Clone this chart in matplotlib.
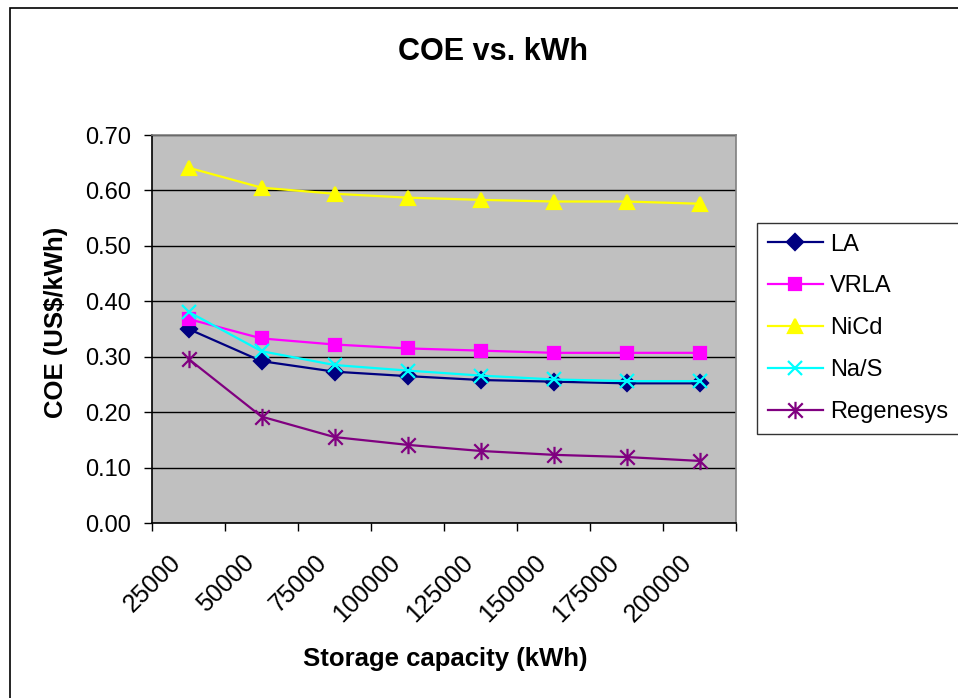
import matplotlib
matplotlib.use("Agg")
import matplotlib.pyplot as plt
import matplotlib.transforms as mtransforms
from matplotlib.patches import Rectangle
from matplotlib.path import Path
from matplotlib.ticker import FixedLocator, FormatStrFormatter

plt.rcParams["font.family"] = ["Liberation Sans", "DejaVu Sans"]

# storage capacity categories (kWh) and cost of energy per technology (US$/kWh)
capacity = ["25000", "50000", "75000", "100000", "125000", "150000", "175000", "200000"]
coe_la = [0.350, 0.292, 0.273, 0.265, 0.258, 0.255, 0.252, 0.252]
coe_vrla = [0.368, 0.333, 0.322, 0.315, 0.311, 0.307, 0.307, 0.307]
coe_nicd = [0.641, 0.605, 0.594, 0.587, 0.583, 0.580, 0.580, 0.576]
coe_nas = [0.381, 0.310, 0.285, 0.275, 0.266, 0.259, 0.256, 0.256]
coe_regen = [0.296, 0.192, 0.155, 0.141, 0.130, 0.123, 0.119, 0.112]
y_ticks = [0.0, 0.1, 0.2, 0.3, 0.4, 0.5, 0.6, 0.7]

# excel-style star: an x with a vertical bar through it
star = Path(
    [(-1, -1), (1, 1), (-1, 1), (1, -1), (0, -1.2), (0, 1.2)],
    [Path.MOVETO, Path.LINETO, Path.MOVETO, Path.LINETO, Path.MOVETO, Path.LINETO],
)

series = [
    ("LA", coe_la, "#000080", "D", 8),
    ("VRLA", coe_vrla, "#FF00FF", "s", 8),
    ("NiCd", coe_nicd, "#FFFF00", "^", 10),
    ("Na/S", coe_nas, "#00FFFF", "x", 9.5),
    ("Regenesys", coe_regen, "#800080", star, 12.5),
]

W, H = 958, 698
fig = plt.figure(figsize=(W / 100, H / 100), dpi=100)
ax = fig.add_axes([152 / W, 175 / H, 584 / W, 388 / H])
ax.set_facecolor("#C0C0C0")

x = list(range(1, len(capacity) + 1))
for name, vals, col, mk, ms in series:
    ax.plot(x, vals, color=col, lw=1.6, marker=mk, markersize=ms,
            markerfacecolor=col, markeredgecolor=col, markeredgewidth=1.6,
            label=name, zorder=3)

ax.set_xlim(0.5, len(capacity) + 0.5)
ax.set_ylim(0, 0.7)
ax.yaxis.set_major_locator(FixedLocator(y_ticks))
ax.yaxis.set_major_formatter(FormatStrFormatter("%.2f"))
ax.grid(axis="y", color="black", lw=1.0)
ax.set_axisbelow(True)

# category labels sit near the centres, tick marks at the boundaries
ax.set_xticks(x)
ax.set_xticklabels(capacity, rotation=45, ha="right", va="center",
                   rotation_mode="anchor")
ax.set_xticks([i + 0.5 for i in range(len(capacity) + 1)], minor=True)
ax.tick_params(axis="x", which="major", length=0, pad=26, labelsize=18)
ax.tick_params(axis="x", which="minor", length=6, width=1, direction="out")
ax.tick_params(axis="y", length=6, width=1, pad=9, labelsize=17)
shift = mtransforms.ScaledTranslation(-11 / 100, 0, fig.dpi_scale_trans)
for lab in ax.get_xticklabels():
    lab.set_transform(lab.get_transform() + shift)

for side in ("left", "bottom"):
    ax.spines[side].set_color("black")
    ax.spines[side].set_linewidth(1.2)
for side in ("top", "right"):
    ax.spines[side].set_color("#808080")
    ax.spines[side].set_linewidth(1.2)

fig.text(493 / W, 1 - 60.5 / H, "COE vs. kWh", ha="center", va="baseline",
         fontsize=22, fontweight="bold")
fig.text(445 / W, 1 - 666 / H, "Storage capacity (kWh)", ha="center",
         va="baseline", fontsize=18.5, fontweight="bold")
fig.text(55.5 / W, 1 - 322 / H, "COE (US$/kWh)", ha="center", va="center",
         rotation=90, fontsize=18.5, fontweight="bold")

leg = fig.legend(loc="upper left", bbox_to_anchor=(757 / W, 1 - 223 / H),
                 bbox_transform=fig.transFigure, fontsize=17, frameon=True,
                 fancybox=False, borderpad=0.45, labelspacing=0.84,
                 handlelength=2.35, handletextpad=0.3, borderaxespad=0)
leg.get_frame().set_edgecolor("black")
leg.get_frame().set_linewidth(1.0)

# chart area border
fig.patches.append(Rectangle((10 / W, -0.1), 2, 1.1 - 8 / H, fill=False,
                             ec="black", lw=1.2, transform=fig.transFigure))

fig.savefig("out.png", dpi=100)
